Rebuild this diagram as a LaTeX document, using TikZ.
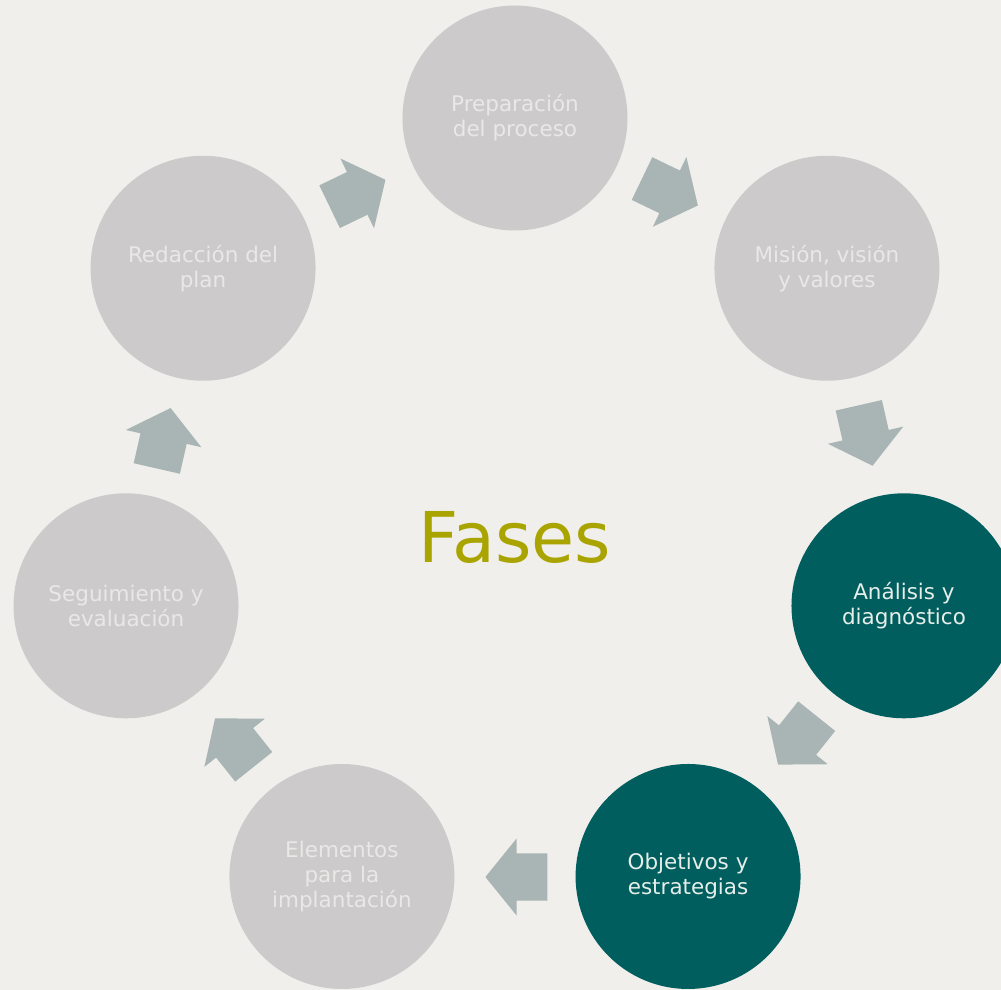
\documentclass[tikz,border=0pt]{standalone}
\usepackage{fontspec}
\setmainfont{DejaVu Sans}
\usetikzlibrary{shapes.arrows}

\definecolor{fondo}{HTML}{F0EFEC}
\definecolor{circgris}{HTML}{CCCACB}
\definecolor{textgris}{HTML}{EAE8E7}
\definecolor{circverde}{HTML}{005E5E}
\definecolor{textverde}{HTML}{E6EEEA}
\definecolor{flechagris}{HTML}{A9B5B4}
\definecolor{oliva}{HTML}{A9A400}

\begin{document}
\begin{tikzpicture} [x=1pt,y=1pt,
  fase/.style={circle, minimum size=225pt, inner sep=0pt, align=center, font=\fontsize{21.5}{25}\selectfont},
  gris/.style={fase, fill=circgris, text=textgris},
  verde/.style={fase, fill=circverde, text=textverde},
  flecha/.style={single arrow, fill=flechagris, minimum height=62pt, inner xsep=0pt, inner ysep=23.5pt,
    single arrow head extend=15pt, single arrow tip angle=102}]

  \fill[fondo] (-515,-473) rectangle (486,517);
  \clip (-515,-473) rectangle (486,517);

  % las siete fases, en el sentido de las agujas
  \node[gris]  (1) at (90:399)      {Preparación\\del proceso};
  \node[gris]  (2) at (38.57:399)   {Misión, visión\\y valores};
  \node[verde] (3) at (-12.86:399)  {Análisis y\\diagnóstico};
  \node[verde] (4) at (-64.29:399)  {Objetivos y\\estrategias};
  \node[gris]  (5) at (-115.71:399) {Elementos\\para la\\implantación};
  \node[gris]  (6) at (-167.14:399) {Seguimiento y\\evaluación};
  \node[gris]  (7) at (141.43:399)  {Redacción del\\plan};

  % flechas entre fases
  \foreach \i [evaluate=\i as \a using 90-360/7*(\i+0.5)] in {0,...,6}
    \node[flecha, rotate=\a-90] (f\i) at (\a+1.75:360.2) {};

  \node[text=oliva, font=\fontsize{70}{70}\selectfont, anchor=base] (fases) at (0,-46) {Fases};

\end{tikzpicture}
\end{document}
